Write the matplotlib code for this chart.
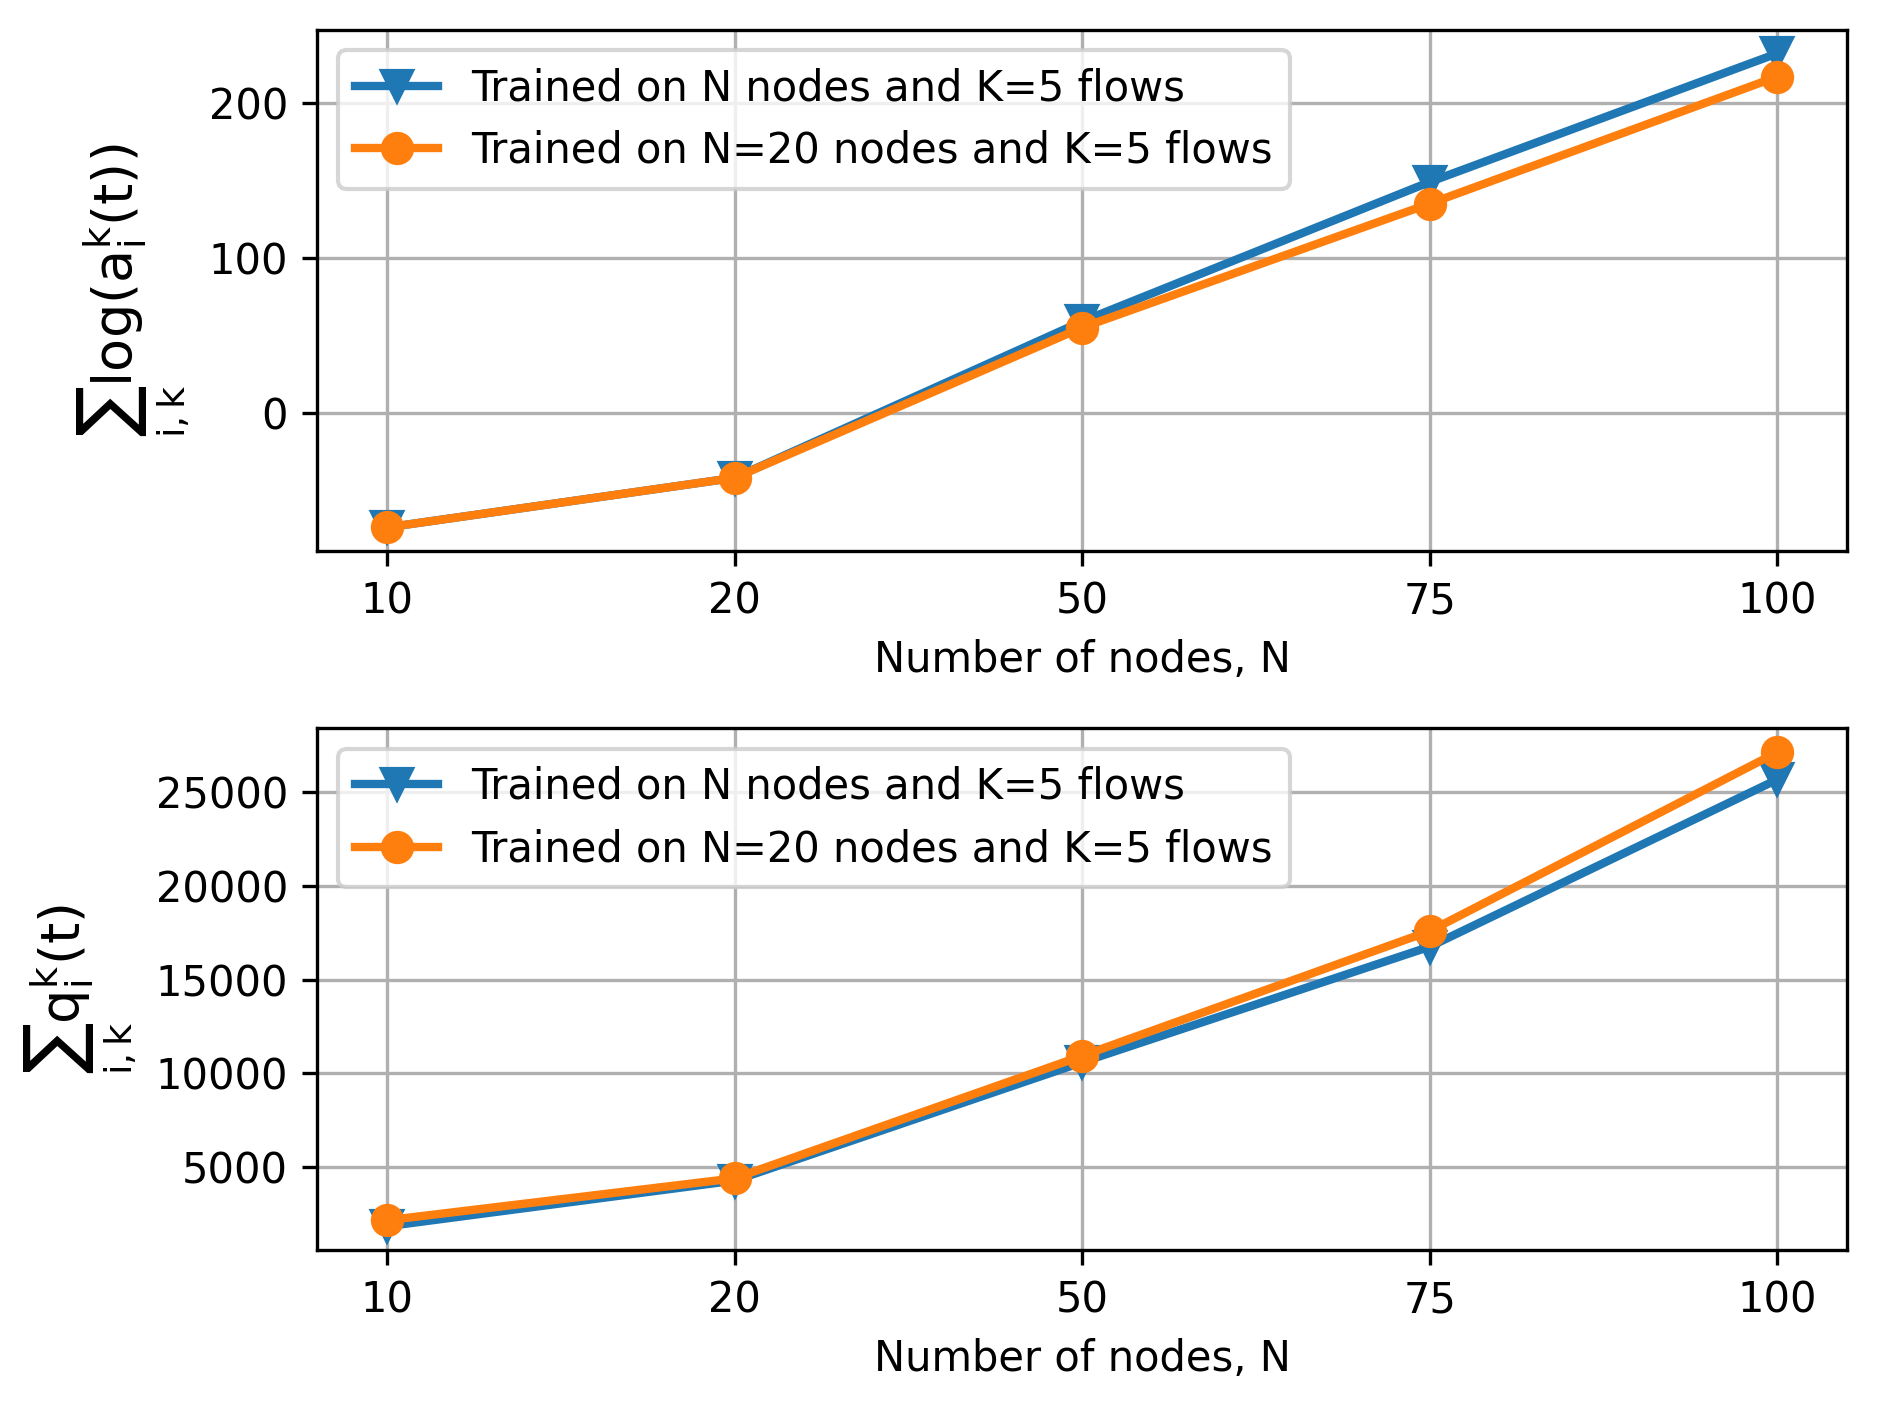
import matplotlib
matplotlib.use("Agg")
import matplotlib.pyplot as plt
import numpy as np

plt.rcParams['mathtext.default'] = 'regular'

nodes = ["10", "20", "50", "75", "100"]
log_own = [-74, -42, 59, 149, 232]
log_n20 = [-74, -42, 55, 135, 217]
q_own = [1870, 4300, 10600, 16750, 25650]
q_n20 = [2190, 4420, 10940, 17580, 27100]

lab_own = "Trained on N nodes and K=5 flows"
lab_n20 = "Trained on N=20 nodes and K=5 flows"

fig, (ax1, ax2) = plt.subplots(2, 1, figsize=(6.26, 4.7), dpi=300)
fig.subplots_adjust(left=0.169, right=0.9835, top=0.979, bottom=0.1135, hspace=0.34)

x = np.arange(len(nodes))
for ax, a, b, ylab in [(ax1, log_own, log_n20, r"$\sum_{i,k}\log(a_i^k(t))$"),
                       (ax2, q_own, q_n20, r"$\sum_{i,k}q_i^k(t)$")]:
    ax.plot(x, a, marker="v", color="#1f77b4", linewidth=2, markersize=7, label=lab_own)
    ax.plot(x, b, marker="o", color="#ff7f0e", linewidth=2, markersize=7, label=lab_n20)
    ax.set_xticks(x)
    ax.set_xticklabels(nodes)
    ax.set_xlabel("Number of nodes, N")
    ax.set_ylabel(ylab, fontsize=13)
    ax.grid(True)
    ax.legend(loc="upper left")

fig.savefig("out.png", dpi=300)
